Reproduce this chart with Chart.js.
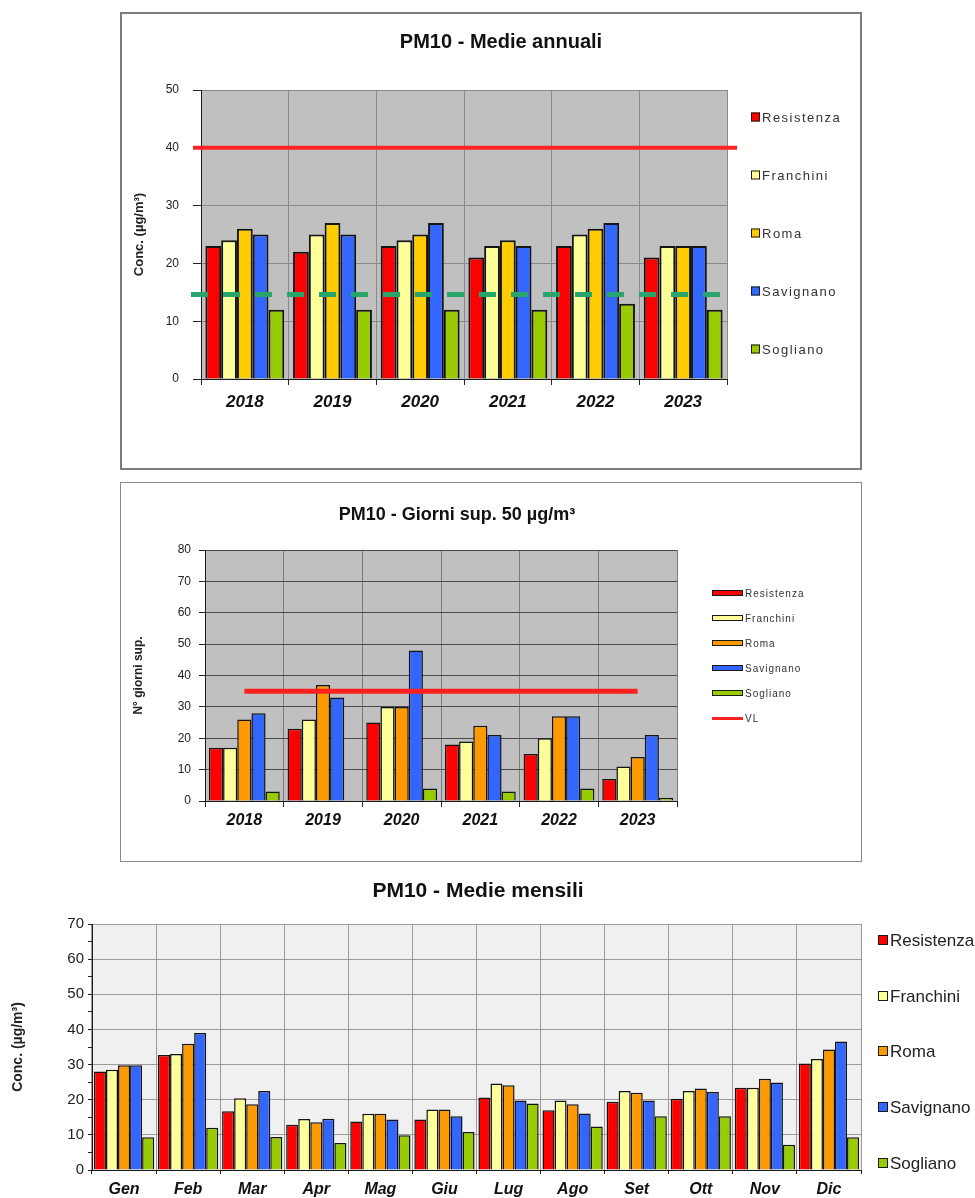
<!DOCTYPE html>
<html lang="it">
<head>
<meta charset="utf-8">
<title>PM10</title>
<script src="https://cdn.jsdelivr.net/npm/chart.js@4.4.1/dist/chart.umd.min.js"></script>
<style>
  body { margin: 0; background: #fff; width: 975px; height: 1198px; position: relative; overflow: hidden; }
  .riquadro { position: absolute; box-sizing: border-box; background: #fff; }
  #box-annuali { left: 120px; top: 12px; width: 742px; height: 458px; border: 2px solid #7c7c7c; }
  #box-giorni { left: 120px; top: 482px; width: 742px; height: 380px; border: 1px solid #8a8a8a; }
  #box-mensili { left: 0; top: 862px; width: 975px; height: 336px; }
  canvas { display: block; }
</style>
</head>
<body>
<div class="riquadro" id="box-annuali"><canvas id="annuali" width="738" height="454"></canvas></div>
<div class="riquadro" id="box-giorni"><canvas id="giorni" width="740" height="378"></canvas></div>
<div class="riquadro" id="box-mensili"><canvas id="mensili" width="975" height="336"></canvas></div>

<script>
// categorie
const anni = ["2018", "2019", "2020", "2021", "2022", "2023"];
const mesi = ["Gen", "Feb", "Mar", "Apr", "Mag", "Giu", "Lug", "Ago", "Set", "Ott", "Nov", "Dic"];
const stazioni = ["Resistenza", "Franchini", "Roma", "Savignano", "Sogliano"];

// medie annuali (µg/m³)
const annResistenza = [23, 22, 23, 21, 23, 21];
const annFranchini = [24, 25, 24, 23, 25, 23];
const annRoma = [26, 27, 25, 24, 26, 23];
const annSavignano = [25, 25, 27, 23, 27, 23];
const annSogliano = [12, 12, 12, 12, 13, 12];
const limiteAnnuale = 40;
const rifOms = 14.6;

// giorni di superamento 50 µg/m³
const ggResistenza = [17, 23, 25, 18, 15, 7];
const ggFranchini = [17, 26, 30, 19, 20, 11];
const ggRoma = [26, 37, 30, 24, 27, 14];
const ggSavignano = [28, 33, 48, 21, 27, 21];
const ggSogliano = [3, 0, 4, 3, 4, 1];
const ggVL = [35, 35, 35, 35, 35, 35];

// medie mensili (µg/m³)
const mesResistenza = [28.0, 32.7, 16.7, 12.9, 13.8, 14.4, 20.6, 17.0, 19.4, 20.3, 23.4, 30.3];
const mesFranchini = [28.5, 33.0, 20.4, 14.5, 16.0, 17.2, 24.6, 19.8, 22.5, 22.5, 23.4, 31.6];
const mesRoma = [29.8, 35.9, 18.7, 13.6, 16.0, 17.2, 24.1, 18.7, 22.0, 23.2, 26.0, 34.3];
const mesSavignano = [29.8, 39.0, 22.5, 14.6, 14.4, 15.3, 19.8, 16.1, 19.8, 22.2, 24.9, 36.6];
const mesSogliano = [9.3, 12.0, 9.4, 7.7, 9.9, 10.8, 18.9, 12.4, 15.3, 15.3, 7.2, 9.3];

// assi
const yMaxAnnuali = 50, yPassoAnnuali = 10;
const yMaxGiorni = 80, yPassoGiorni = 10;
const yMaxMensili = 70, yPassoMensili = 5;

const FONT = "'Liberation Sans', Arial, Helvetica, sans-serif";
const FONT_STRETTO = "'Liberation Sans Narrow', 'Arial Narrow', 'Liberation Sans', Arial, sans-serif";
Chart.defaults.font.family = FONT;
Chart.defaults.color = "#222";

const coloriAnnuali = ["#ff0000", "#ffff99", "#ffcc00", "#3366ff", "#99cc00"];
const coloriAltri = ["#ff0000", "#ffff99", "#ff9900", "#3366ff", "#99cc00"];

function barre(serie, colori, bordo, larghezza) {
  return serie.map((valori, i) => ({
    type: "bar",
    label: stazioni[i],
    data: valori,
    backgroundColor: colori[i],
    borderColor: "#141414",
    borderWidth: bordo,
    categoryPercentage: larghezza,
    barPercentage: 1
  }));
}

// titolo disegnato a mano per poterlo posizionare liberamente
function pluginTitolo(testo, x, y, font) {
  return {
    id: "titolo",
    afterDraw(chart) {
      const ctx = chart.ctx;
      ctx.save();
      ctx.font = font;
      ctx.fillStyle = "#111";
      ctx.textAlign = "center";
      ctx.textBaseline = "middle";
      ctx.fillText(testo, x, y);
      ctx.restore();
    }
  };
}

// sfondo dell'area del grafico
function pluginSfondo(colore) {
  return {
    id: "sfondo",
    beforeDraw(chart) {
      const { ctx, chartArea: a } = chart;
      ctx.save();
      ctx.fillStyle = colore;
      ctx.fillRect(a.left, a.top, a.right - a.left, a.bottom - a.top);
      ctx.restore();
    }
  };
}

// legenda verticale a destra
function pluginLegenda(o) {
  return {
    id: "legenda",
    afterDraw(chart) {
      const ctx = chart.ctx;
      ctx.save();
      ctx.font = o.font;
      ctx.letterSpacing = o.spaziatura || "0px";
      ctx.textBaseline = "middle";
      ctx.textAlign = "left";
      chart.data.datasets.forEach((ds, i) => {
        const y = Math.round(o.y + i * o.passo);
        if (ds.type === "line") {
          ctx.strokeStyle = ds.borderColor;
          ctx.lineWidth = 3;
          ctx.beginPath();
          ctx.moveTo(o.x, y + 0.5);
          ctx.lineTo(o.x + o.w, y + 0.5);
          ctx.stroke();
        } else {
          ctx.fillStyle = ds.backgroundColor;
          ctx.fillRect(o.x, y - o.h / 2, o.w, o.h);
          ctx.strokeStyle = "#1a1a1a";
          ctx.lineWidth = 1;
          ctx.strokeRect(o.x + 0.5, y - o.h / 2 + 0.5, o.w - 1, o.h - 1);
        }
        ctx.fillStyle = o.colore;
        ctx.fillText(ds.label, o.x + o.w + o.gap, y + 1);
      });
      ctx.restore();
    }
  };
}

// limite annuale e valore guida sul grafico delle medie
const lineeAnnuali = {
  id: "lineeAnnuali",
  afterDatasetsDraw(chart) {
    const { ctx, chartArea: a, scales: { y } } = chart;
    ctx.save();
    let py = y.getPixelForValue(rifOms);
    ctx.strokeStyle = "#27a56a";
    ctx.lineWidth = 5;
    ctx.setLineDash([17, 15]);
    ctx.beginPath();
    ctx.moveTo(a.left - 10, py);
    ctx.lineTo(a.right + 3, py);
    ctx.stroke();
    py = y.getPixelForValue(limiteAnnuale);
    ctx.setLineDash([]);
    ctx.strokeStyle = "#ff2424";
    ctx.lineWidth = 4;
    ctx.beginPath();
    ctx.moveTo(a.left - 8, py);
    ctx.lineTo(a.right + 10, py);
    ctx.stroke();
    ctx.restore();
  }
};

function scalaX(o) {
  return {
    grid: { color: o.griglia, tickColor: "#222", tickLength: o.tacca, lineWidth: 1 },
    border: { color: "#1a1a1a", width: 1 },
    ticks: { font: o.font, color: "#111", padding: o.pad, maxRotation: 0, autoSkip: false },
    afterFit: s => { s.height = o.altezza; }
  };
}

function scalaY(o) {
  return {
    min: 0,
    max: o.max,
    grid: { color: o.griglia, tickColor: "#222", tickLength: o.tacca, lineWidth: 1 },
    border: { color: "#1a1a1a", width: 1 },
    ticks: { stepSize: o.passo, font: o.font, color: "#222", padding: o.pad, autoSkip: false, callback: o.etichetta },
    title: { display: true, text: o.titolo, font: o.fontTitolo, color: "#222", padding: { top: o.padTitolo, bottom: 0 } },
    afterFit: s => { s.width = o.larghezza; }
  };
}

// PM10 - Medie annuali
new Chart(document.getElementById("annuali"), {
  data: {
    labels: anni,
    datasets: barre([annResistenza, annFranchini, annRoma, annSavignano, annSogliano], coloriAnnuali, 2, 0.9)
  },
  options: {
    responsive: false,
    animation: false,
    devicePixelRatio: 1,
    layout: { padding: { top: 76, right: 133, bottom: 49, left: 0 } },
    plugins: { legend: { display: false }, tooltip: { enabled: false } },
    scales: {
      x: scalaX({ griglia: "#8a8a8a", tacca: 6, pad: 7, altezza: 40,
        font: { size: 17, weight: "bold", style: "italic" } }),
      y: scalaY({ max: yMaxAnnuali, passo: yPassoAnnuali, griglia: "#8a8a8a", tacca: 8, pad: 14, larghezza: 79,
        font: { size: 12 }, titolo: "Conc. (µg/m³)", fontTitolo: { size: 13, weight: "bold" }, padTitolo: 10 })
    }
  },
  plugins: [
    pluginSfondo("#c0c0c0"),
    lineeAnnuali,
    pluginTitolo("PM10 - Medie annuali", 379, 28, "bold 20px " + FONT),
    pluginLegenda({ x: 629, y: 103, passo: 58, w: 9, h: 9, gap: 2, font: "13px " + FONT, spaziatura: "1.5px", colore: "#333" })
  ]
});

// PM10 - Giorni di superamento
const dsGiorni = barre([ggResistenza, ggFranchini, ggRoma, ggSavignano, ggSogliano], coloriAltri, 1.5, 0.9);
dsGiorni.push({
  type: "line",
  label: "VL",
  data: ggVL,
  borderColor: "#ff2020",
  borderWidth: 5,
  pointRadius: 0,
  fill: false,
  order: -1
});

new Chart(document.getElementById("giorni"), {
  data: { labels: anni, datasets: dsGiorni },
  options: {
    responsive: false,
    animation: false,
    devicePixelRatio: 1,
    layout: { padding: { top: 67, right: 184, bottom: 20, left: 0 } },
    plugins: { legend: { display: false }, tooltip: { enabled: false } },
    scales: {
      x: scalaX({ griglia: "#7a7a7a", tacca: 6, pad: 4, altezza: 40,
        font: { size: 16, weight: "bold", style: "italic" } }),
      y: scalaY({ max: yMaxGiorni, passo: yPassoGiorni, griglia: "#4a4a4a", tacca: 6, pad: 8, larghezza: 84,
        font: { size: 12 }, titolo: "N° giorni sup.", fontTitolo: { size: 12, weight: "bold" }, padTitolo: 10 })
    }
  },
  plugins: [
    pluginSfondo("#c0c0c0"),
    pluginTitolo("PM10 - Giorni sup. 50 µg/m³", 336, 32, "bold 18px " + FONT),
    pluginLegenda({ x: 591, y: 110, passo: 25, w: 31, h: 6, gap: 2, font: "10px " + FONT, spaziatura: "1px", colore: "#333" })
  ]
});

// PM10 - Medie mensili
new Chart(document.getElementById("mensili"), {
  data: {
    labels: mesi,
    datasets: barre([mesResistenza, mesFranchini, mesRoma, mesSavignano, mesSogliano], coloriAltri, 1.5, 0.94)
  },
  options: {
    responsive: false,
    animation: false,
    devicePixelRatio: 1,
    layout: { padding: { top: 62, right: 114, bottom: 0, left: 0 } },
    plugins: { legend: { display: false }, tooltip: { enabled: false } },
    scales: {
      x: scalaX({ griglia: "#9a9a9a", tacca: 4, pad: 6, altezza: 28,
        font: { family: FONT_STRETTO, size: 16, weight: "bold", style: "italic" } }),
      y: scalaY({ max: yMaxMensili, passo: yPassoMensili, griglia: "#9a9a9a", tacca: 4, pad: 4, larghezza: 92,
        font: { size: 15 }, titolo: "Conc. (µg/m³)", fontTitolo: { size: 14, weight: "bold" }, padTitolo: 10,
        etichetta: v => (v % 10 === 0 ? v : "") })
    }
  },
  plugins: [
    pluginSfondo("#f0f0f0"),
    {
      // solo le linee ogni 10 µg/m³, tacche ogni 5
      id: "grigliaMensili",
      beforeInit(chart) {
        chart.options.scales.y.grid.color = c => (c.tick && c.tick.value % 10 === 0 ? "#9a9a9a" : "rgba(0,0,0,0)");
      }
    },
    pluginTitolo("PM10 - Medie mensili", 478, 29, "bold 21px " + FONT),
    pluginLegenda({ x: 878, y: 78, passo: 55.7, w: 10, h: 10, gap: 2, font: "17px " + FONT, colore: "#222" })
  ]
});
</script>
</body>
</html>
